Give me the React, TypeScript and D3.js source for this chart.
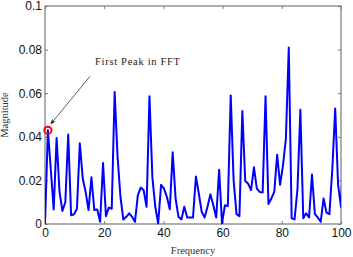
import React, { useRef, useEffect } from "react";
import * as d3 from "d3";

// FFT magnitude, one value per bin
const magnitude = [
  0.0, 0.043, 0.025, 0.0067, 0.0395, 0.0147, 0.006, 0.01, 0.041, 0.004,
  0.0045, 0.007, 0.037, 0.021, 0.0147, 0.0064, 0.0214, 0.0064, 0.0067, 0.001,
  0.028, 0.0036, 0.0075, 0.007, 0.0605, 0.031, 0.0125, 0.002, 0.0033, 0.0049,
  0.0033, 0.001, 0.0132, 0.0167, 0.0155, 0.0079, 0.0586, 0.0215, 0.0079, 0.0003,
  0.018, 0.0162, 0.0124, 0.0067, 0.0329, 0.0117, 0.0033, 0.0021, 0.0079, 0.003,
  0.003, 0.003, 0.0218, 0.014, 0.0056, 0.003, 0.0079, 0.0136, 0.0086, 0.003,
  0.0249, 0.0003, 0.0086, 0.0082, 0.059, 0.02, 0.0045, 0.0036, 0.0518, 0.0197,
  0.0185, 0.0155, 0.026, 0.0162, 0.0147, 0.0144, 0.0586, 0.0092, 0.0117, 0.0147,
  0.0318, 0.018, 0.0268, 0.039, 0.081, 0.0026, 0.0021, 0.016, 0.0524, 0.0026,
  0.0049, 0.003, 0.0227, 0.0045, 0.003, 0.001, 0.0117, 0.0052, 0.0045, 0.025,
  0.053, 0.018, 0.0079, 0.04,
];
const binWidth = 100 / 102; // frequency step between bins

const xTicks = [0, 20, 40, 60, 80, 100];
const yTicks = [0, 0.02, 0.04, 0.06, 0.08, 0.1];
const yTickLabels = ["0", "0.02", "0.04", "0.06", "0.08", "0.1"];

const peakIndex = 1;
const annotationText = "First Peak in FFT";
const annotationPos = [16.9, 0.0728]; // text anchor (freq, magnitude)
const arrowStart = [15.2, 0.0677];
const arrowEnd = [1.86, 0.0457];
const xLabel = "Frequency";
const yLabel = "Magnitude";

export default function App() {
  const svgRef = useRef<SVGSVGElement | null>(null);

  useEffect(() => {
    const width = 353;
    const height = 257;
    const margin = { top: 6, right: 12, bottom: 33, left: 45 };
    const x0 = margin.left;
    const x1 = width - margin.right;
    const y0 = height - margin.bottom;
    const y1 = margin.top;

    const svg = d3.select(svgRef.current);
    svg.selectAll("*").remove();

    const x = d3.scaleLinear().domain([0, 100]).range([x0, x1]);
    const y = d3.scaleLinear().domain([0, 0.1]).range([y0, y1]);

    const axisColor = "#7a7a7a";
    const tickFont = "'Liberation Sans', Arial, Helvetica, sans-serif";
    const serif = "'Liberation Serif', 'Times New Roman', serif";

    svg
      .append("defs")
      .append("clipPath")
      .attr("id", "plot-clip")
      .append("rect")
      .attr("x", x0)
      .attr("y", y1 - 2)
      .attr("width", x1 - x0)
      .attr("height", y0 - y1 + 4);

    // bottom axis
    const bottom = svg
      .append("g")
      .attr("transform", `translate(0,${y0})`)
      .call(
        d3
          .axisBottom(x)
          .tickValues(xTicks)
          .tickSizeInner(-3)
          .tickSizeOuter(0)
          .tickPadding(4)
          .tickFormat(d3.format("d"))
      );
    bottom.select(".domain").remove();
    bottom.selectAll("line").attr("stroke", axisColor);
    bottom
      .selectAll("text")
      .attr("fill", "#111")
      .style("font-family", tickFont)
      .style("font-size", "12px");

    // left axis
    const left = svg
      .append("g")
      .attr("transform", `translate(${x0},0)`)
      .call(
        d3
          .axisLeft(y)
          .tickValues(yTicks)
          .tickSizeInner(-3)
          .tickSizeOuter(0)
          .tickPadding(3)
          .tickFormat((d, i) => yTickLabels[i])
      );
    left.select(".domain").remove();
    left.selectAll("line").attr("stroke", axisColor);
    left
      .selectAll("text")
      .attr("fill", "#111")
      .style("font-family", tickFont)
      .style("font-size", "12px");

    // top and right ticks (no labels)
    const top = svg
      .append("g")
      .attr("transform", `translate(0,${y1})`)
      .call(d3.axisTop(x).tickValues(xTicks).tickSizeInner(-3).tickSizeOuter(0).tickFormat(() => ""));
    top.select(".domain").remove();
    top.selectAll("line").attr("stroke", axisColor);

    const right = svg
      .append("g")
      .attr("transform", `translate(${x1},0)`)
      .call(d3.axisRight(y).tickValues(yTicks).tickSizeInner(-3).tickSizeOuter(0).tickFormat(() => ""));
    right.select(".domain").remove();
    right.selectAll("line").attr("stroke", axisColor);

    // frame
    svg
      .append("rect")
      .attr("x", x0)
      .attr("y", y1)
      .attr("width", x1 - x0)
      .attr("height", y0 - y1)
      .attr("fill", "none")
      .attr("stroke", axisColor)
      .attr("stroke-width", 1.2);

    // the FFT line
    const line = d3
      .line<number>()
      .x((d, i) => x(i * binWidth))
      .y((d) => y(d));

    svg
      .append("path")
      .datum(magnitude)
      .attr("clip-path", "url(#plot-clip)")
      .attr("d", line)
      .attr("fill", "none")
      .attr("stroke", "#0000ff")
      .attr("stroke-width", 2)
      .attr("stroke-linejoin", "round");

    // red circle on first peak
    svg
      .append("circle")
      .attr("cx", x(peakIndex * binWidth))
      .attr("cy", y(magnitude[peakIndex]))
      .attr("r", 3.6)
      .attr("fill", "none")
      .attr("stroke", "#ff0000")
      .attr("stroke-width", 2);

    // arrow
    const ax1 = x(arrowStart[0]);
    const ay1 = y(arrowStart[1]);
    const ax2 = x(arrowEnd[0]);
    const ay2 = y(arrowEnd[1]);
    const ang = Math.atan2(ay2 - ay1, ax2 - ax1);
    const head = 6;
    const spread = 0.4;
    svg
      .append("line")
      .attr("x1", ax1)
      .attr("y1", ay1)
      .attr("x2", ax2 - Math.cos(ang) * 3)
      .attr("y2", ay2 - Math.sin(ang) * 3)
      .attr("stroke", "#333")
      .attr("stroke-width", 0.8);
    svg
      .append("path")
      .attr(
        "d",
        `M${ax2},${ay2}L${ax2 - head * Math.cos(ang - spread)},${ay2 - head * Math.sin(ang - spread)}` +
          `L${ax2 - head * 0.6 * Math.cos(ang)},${ay2 - head * 0.6 * Math.sin(ang)}` +
          `L${ax2 - head * Math.cos(ang + spread)},${ay2 - head * Math.sin(ang + spread)}Z`
      )
      .attr("fill", "#111");

    svg
      .append("text")
      .attr("x", x(annotationPos[0]))
      .attr("y", y(annotationPos[1]))
      .attr("textLength", 85)
      .attr("lengthAdjust", "spacing")
      .style("font-family", serif)
      .style("font-size", "10.5px")
      .attr("fill", "#222")
      .text(annotationText);

    // axis titles
    svg
      .append("text")
      .attr("x", (x0 + x1) / 2)
      .attr("y", 254)
      .attr("text-anchor", "middle")
      .style("font-family", serif)
      .style("font-size", "10.5px")
      .attr("fill", "#333")
      .text(xLabel);

    svg
      .append("text")
      .attr("transform", `translate(8,${(y0 + y1) / 2}) rotate(-90)`)
      .attr("text-anchor", "middle")
      .style("font-family", serif)
      .style("font-size", "10.5px")
      .attr("fill", "#333")
      .text(yLabel);
  }, []);

  return (
    <svg
      ref={svgRef}
      width={353}
      height={257}
      style={{ position: "absolute", left: 0, top: 0, background: "#fff" }}
    />
  );
}
